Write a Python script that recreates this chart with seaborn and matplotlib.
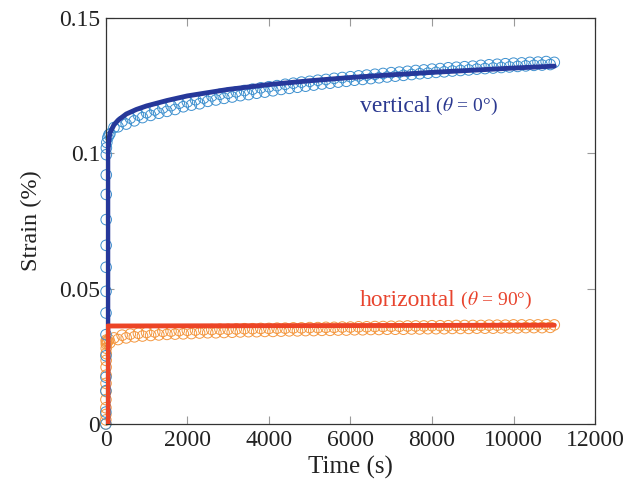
import numpy as np
import pandas as pd
import matplotlib
matplotlib.use("Agg")
import matplotlib.pyplot as plt
import seaborn as sns

# ---------------- data ----------------
# early loading points (vertical rise at t ~ 0)
v_t_early = [0, 1, 2, 3, 4, 5, 6, 7, 8, 9, 10, 11, 12, 13, 14, 25, 50, 75]
v_s_early = [0.0, 0.0044, 0.0123, 0.0173, 0.0252, 0.033, 0.041, 0.049, 0.0579,
             0.066, 0.0755, 0.0848, 0.092, 0.0995, 0.1020, 0.1040, 0.1058, 0.1068]
h_t_early = [0, 1, 2, 3, 4, 5, 6, 7, 8, 9, 10, 11, 12, 13, 14, 25, 50, 75]
h_s_early = [0.0, 0.0015, 0.0035, 0.006, 0.009, 0.012, 0.015, 0.018, 0.021,
             0.0235, 0.026, 0.028, 0.0295, 0.0305, 0.0310, 0.0300, 0.0306, 0.0312]

# creep points every 100 s from 100 s to 11000 s
t_main = list(range(100, 11001, 100))
v_s_main = [
    0.1072, 0.1095, 0.1098, 0.1118, 0.1108, 0.1130, 0.1120, 0.1141, 0.1132, 0.1150,
    0.1140, 0.1160, 0.1148, 0.1168, 0.1155, 0.1176, 0.1162, 0.1185, 0.1172, 0.1190,
    0.1178, 0.1198, 0.1183, 0.1204, 0.1192, 0.1212, 0.1197, 0.1218, 0.1203, 0.1222,
    0.1208, 0.1227, 0.1213, 0.1232, 0.1217, 0.1237, 0.1222, 0.1242, 0.1226, 0.1246,
    0.1231, 0.1250, 0.1236, 0.1255, 0.1240, 0.1259, 0.1244, 0.1263, 0.1248, 0.1266,
    0.1252, 0.1270, 0.1256, 0.1273, 0.1259, 0.1277, 0.1263, 0.1280, 0.1266, 0.1283,
    0.1270, 0.1286, 0.1273, 0.1289, 0.1276, 0.1292, 0.1279, 0.1295, 0.1282, 0.1298,
    0.1285, 0.1300, 0.1288, 0.1303, 0.1291, 0.1306, 0.1294, 0.1308, 0.1296, 0.1311,
    0.1299, 0.1313, 0.1301, 0.1316, 0.1304, 0.1318, 0.1306, 0.1320, 0.1308, 0.1322,
    0.1311, 0.1325, 0.1313, 0.1327, 0.1315, 0.1329, 0.1317, 0.1331, 0.1319, 0.1333,
    0.1321, 0.1334, 0.1323, 0.1336, 0.1325, 0.1337, 0.1326, 0.1339, 0.1328, 0.1336,
]
h_s_main = [
    0.0300, 0.0318, 0.0312, 0.0328, 0.0318, 0.0332, 0.0322, 0.0335, 0.0325, 0.0338,
    0.0327, 0.0340, 0.0329, 0.0342, 0.0331, 0.0343, 0.0332, 0.0345, 0.0333, 0.0346,
    0.0334, 0.0347, 0.0336, 0.0348, 0.0337, 0.0349, 0.0337, 0.0350, 0.0338, 0.0350,
    0.0339, 0.0351, 0.0340, 0.0352, 0.0341, 0.0352, 0.0341, 0.0353, 0.0342, 0.0353,
    0.0342, 0.0354, 0.0343, 0.0354, 0.0344, 0.0355, 0.0344, 0.0355, 0.0345, 0.0356,
    0.0345, 0.0356, 0.0346, 0.0357, 0.0346, 0.0357, 0.0347, 0.0358, 0.0347, 0.0358,
    0.0348, 0.0359, 0.0348, 0.0359, 0.0349, 0.0360, 0.0349, 0.0360, 0.0350, 0.0361,
    0.0350, 0.0361, 0.0350, 0.0362, 0.0351, 0.0362, 0.0351, 0.0362, 0.0352, 0.0363,
    0.0352, 0.0363, 0.0352, 0.0363, 0.0353, 0.0364, 0.0353, 0.0364, 0.0353, 0.0364,
    0.0354, 0.0364, 0.0354, 0.0365, 0.0354, 0.0365, 0.0355, 0.0365, 0.0355, 0.0366,
    0.0355, 0.0366, 0.0356, 0.0366, 0.0356, 0.0366, 0.0356, 0.0367, 0.0357, 0.0366,
]

# fitted model curves
v_fit_t = [50, 50, 70, 100, 200, 300, 500, 750, 1000, 1500, 2000, 3000, 4000,
           5000, 6000, 7000, 8000, 9000, 10000, 11000]
v_fit_s = [0.0, 0.1000, 0.1040, 0.1075, 0.1105, 0.1122, 0.1145, 0.1162, 0.1175,
           0.1195, 0.1212, 0.1236, 0.1254, 0.1268, 0.1280, 0.1290, 0.1299, 0.1307,
           0.1315, 0.1322]
h_fit_t = [50, 50, 11000]
h_fit_s = [0.0, 0.0362, 0.0365]

x_ticks = [0, 2000, 4000, 6000, 8000, 10000, 12000]
y_ticks = [0, 0.05, 0.1, 0.15]
y_ticklabels = ["0", "0.05", "0.1", "0.15"]

# ---------------- styling ----------------
sns.set_theme(style="white")
plt.rcParams["font.family"] = ["Liberation Serif", "DejaVu Serif"]
plt.rcParams["mathtext.fontset"] = "stix"

c_v_pts = "#3d90cf"
c_v_line = "#26389a"
c_h_pts = "#f4973f"
c_h_line = "#ec4426"

vert = pd.DataFrame({"t": v_t_early + t_main, "s": v_s_early + v_s_main})
horz = pd.DataFrame({"t": h_t_early + t_main, "s": h_s_early + h_s_main})
vfit = pd.DataFrame({"t": v_fit_t, "s": v_fit_s})
hfit = pd.DataFrame({"t": h_fit_t, "s": h_fit_s})

fig = plt.figure(figsize=(6.26, 4.91), dpi=100)
ax = fig.add_axes([0.169, 0.1365, 0.7816, 0.8269])

sns.scatterplot(data=horz, x="t", y="s", ax=ax, s=58, marker="o", linewidth=0.7,
                legend=False, zorder=2, clip_on=False)
ax.collections[-1].set_facecolor("none")
ax.collections[-1].set_edgecolor(c_h_pts)
sns.scatterplot(data=vert, x="t", y="s", ax=ax, s=58, marker="o", linewidth=0.7,
                legend=False, zorder=2, clip_on=False)
ax.collections[-1].set_facecolor("none")
ax.collections[-1].set_edgecolor(c_v_pts)

sns.lineplot(data=vfit, x="t", y="s", ax=ax, estimator=None, sort=False,
             color=c_v_line, linewidth=3.5, zorder=3)
sns.lineplot(data=hfit, x="t", y="s", ax=ax, estimator=None, sort=False,
             color=c_h_line, linewidth=3.5, zorder=4)

ax.set_xlim(0, 12000)
ax.set_ylim(0, 0.15)
ax.set_xticks(x_ticks)
ax.set_xticklabels([str(v) for v in x_ticks])
ax.set_yticks(y_ticks)
ax.set_yticklabels(y_ticklabels)
ax.tick_params(axis="both", direction="in", length=6, width=0.8, color="#9a9a9a",
               labelsize=17, labelcolor="#222222", top=True, right=True,
               bottom=True, left=True, pad=4)
for sp in ax.spines.values():
    sp.set_visible(True)
    sp.set_color("#333333")
    sp.set_linewidth(0.9)

ax.set_xlabel("Time (s)", fontsize=18, color="#222222", labelpad=4)
ax.set_ylabel("Strain (%)", fontsize=17.5, color="#222222", labelpad=12)

t1 = ax.text(6230, 0.1153, "vertical", fontsize=17, color="#2b3990",
             ha="left", va="baseline")
ax.annotate(r" ($\theta$ = 0°)", xy=(1, 0), xycoords=t1, fontsize=14,
            color="#2b3990", ha="left", va="bottom")
t2 = ax.text(6230, 0.0436, "horizontal", fontsize=17, color="#e8442e",
             ha="left", va="baseline")
ax.annotate(r" ($\theta$ = 90°)", xy=(1, 0), xycoords=t2, fontsize=14,
            color="#e8442e", ha="left", va="bottom")

fig.savefig("out.png", dpi=100)
